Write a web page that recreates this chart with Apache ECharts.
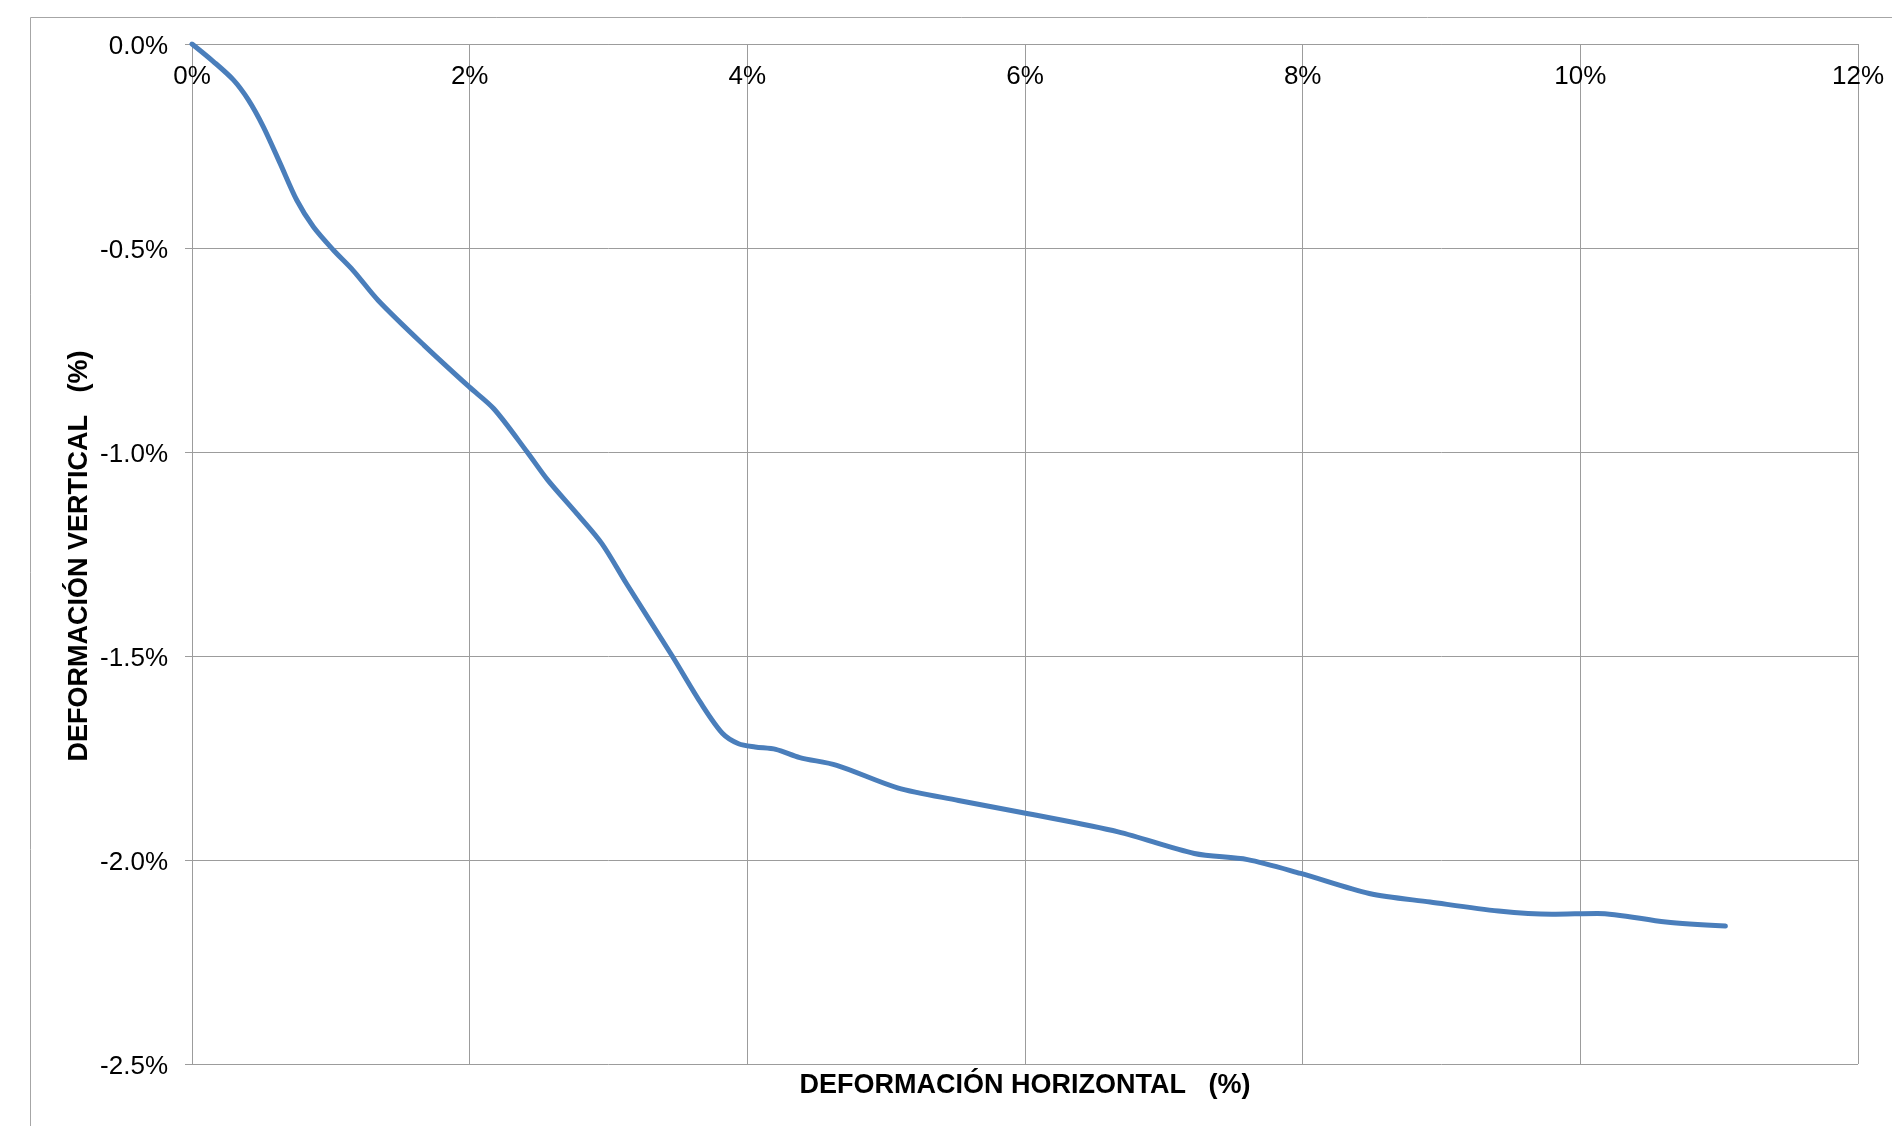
<!DOCTYPE html>
<html>
<head>
<meta charset="utf-8">
<script src="https://cdn.jsdelivr.net/npm/echarts@6/dist/echarts.min.js"></script>
<style>
html,body{margin:0;padding:0;background:#fff;}
#chart{width:1892px;height:1126px;}
</style>
</head>
<body>
<div id="chart"></div>
<script>
// Data (percent units)
const horizStrain = [0, 0.154, 0.298, 0.406, 0.514, 0.634, 0.755, 0.874, 1.018, 1.163, 1.340, 1.670, 1.995, 2.174, 2.414, 2.563, 2.772, 2.951, 3.130, 3.459, 3.668, 3.822, 3.937, 4.056, 4.205, 4.378, 4.644, 5.082, 5.521, 6.014, 6.671, 7.220, 7.603, 7.986, 8.480, 8.918, 9.411, 9.795, 10.124, 10.616, 11.045];
const vertStrain  = [0, -0.043, -0.088, -0.137, -0.203, -0.292, -0.383, -0.448, -0.505, -0.556, -0.628, -0.738, -0.840, -0.894, -1.000, -1.069, -1.151, -1.224, -1.323, -1.500, -1.617, -1.690, -1.715, -1.723, -1.729, -1.749, -1.768, -1.823, -1.854, -1.886, -1.931, -1.984, -1.999, -2.033, -2.082, -2.103, -2.125, -2.133, -2.131, -2.152, -2.162];
const xTitle = 'DEFORMACIÓN HORIZONTAL   (%)';
const yTitle = 'DEFORMACIÓN VERTICAL   (%)';

const points = horizStrain.map((x, i) => [x, vertStrain[i]]);
const FONT = '"Liberation Sans", Arial, sans-serif';
const GRID_COLOR = '#9c9c9c';

const chart = echarts.init(document.getElementById('chart'), null, {renderer: 'canvas'});
chart.setOption({
  backgroundColor: '#ffffff',
  animation: false,
  grid: {left: 192, right: 34, top: 44, bottom: 62, containLabel: false},
  xAxis: {
    type: 'value', min: 0, max: 12, interval: 2, position: 'top',
    axisLine: {show: true, onZero: false, lineStyle: {color: GRID_COLOR, width: 1}},
    axisTick: {show: false},
    axisLabel: {inside: true, margin: 20, fontSize: 26, color: '#000', fontFamily: FONT,
      formatter: v => v + '%'},
    splitLine: {show: true, lineStyle: {color: GRID_COLOR, width: 1}}
  },
  yAxis: {
    type: 'value', min: -2.5, max: 0, interval: 0.5,
    axisLine: {show: true, onZero: false, lineStyle: {color: GRID_COLOR, width: 1}},
    axisTick: {show: true, inside: false, length: 7, lineStyle: {color: GRID_COLOR, width: 1}},
    axisLabel: {margin: 24, fontSize: 26, color: '#000', fontFamily: FONT,
      verticalAlign: 'top', lineHeight: 5,
      formatter: v => v.toFixed(1) + '%'},
    splitLine: {show: true, lineStyle: {color: GRID_COLOR, width: 1}}
  },
  graphic: [
    {type: 'rect', left: 28, top: 15, silent: true, z: -1,
      shape: {x: 0, y: 0, width: 1900, height: 1200},
      style: {fill: 'none', stroke: '#a6a6a6', lineWidth: 1}},
    {type: 'text', x: 1025, y: 1086, silent: true,
      style: {text: xTitle, font: 'bold 27px ' + FONT, fill: '#000', align: 'center', verticalAlign: 'middle'}},
    {type: 'text', x: 80, y: 556, rotation: Math.PI / 2, silent: true,
      style: {text: yTitle, font: 'bold 27px ' + FONT, fill: '#000', align: 'center', verticalAlign: 'middle'}}
  ],
  series: [{
    type: 'line',
    data: points,
    smooth: 0.3,
    showSymbol: false,
    symbol: 'none',
    lineStyle: {color: '#4a7ebb', width: 5, cap: 'round', join: 'round'}
  }]
});
</script>
</body>
</html>
